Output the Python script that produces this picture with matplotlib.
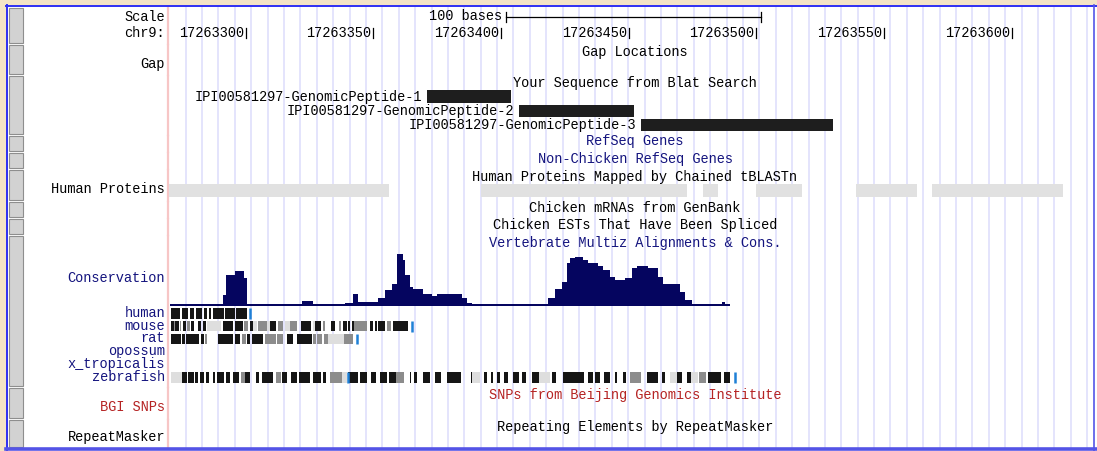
import matplotlib
matplotlib.use("Agg")
import matplotlib.pyplot as plt
from matplotlib.patches import Rectangle
import numpy as np

# ---------------- data ----------------
VIEW_START = 17263270          # first base shown in the browser window
RULER_TICKS = [17263300, 17263350, 17263400, 17263450, 17263500, 17263550, 17263600]
SCALE_BAR = [17263402, 17263502]   # 100 bases

PEPTIDE_NAMES = ["IPI00581297-GenomicPeptide-1",
                 "IPI00581297-GenomicPeptide-2",
                 "IPI00581297-GenomicPeptide-3"]
PEPTIDE_STARTS = [17263371, 17263407, 17263455]
PEPTIDE_ENDS = [17263404, 17263452, 17263530]

HUMAN_PROT_STARTS = [17263270, 17263392, 17263479, 17263500, 17263539, 17263569]
HUMAN_PROT_ENDS = [17263356, 17263473, 17263485, 17263518, 17263563, 17263620]

# conservation score, step profile (offsets in bases from 17263300)
CONS_ORIGIN = 17263300
CONS_EDGES = [-29.7, -8.9, -7.7, -4.2, -0.7, 0.5, 22.1, 26.4, 38.9, 42.0, 44.0,
              46.7, 51.8, 54.6, 57.3, 59.3, 61.6, 62.4, 64.4, 65.5, 69.4, 73.0,
              74.9, 84.7, 86.7, 88.6, 105.5, 110.2, 112.1, 118.4, 121.1, 123.9,
              125.8, 127.0, 129.0, 132.1, 134.1, 138.0, 140.0, 142.7, 144.7,
              148.6, 151.4, 153.3, 157.6, 161.5, 163.5, 170.2, 172.1, 174.9,
              180.0, 186.6, 187.8, 189.7]
CONS_VALUES = [0.03, 0.21, 0.58, 0.66, 0.53, 0.03, 0.09, 0.03, 0.05, 0.23, 0.08,
               0.07, 0.15, 0.30, 0.41, 0.98, 0.87, 0.58, 0.36, 0.32, 0.22, 0.18,
               0.22, 0.15, 0.05, 0.03, 0.04, 0.03, 0.04, 0.15, 0.33, 0.46, 0.81,
               0.90, 0.93, 0.87, 0.82, 0.76, 0.68, 0.55, 0.49, 0.52, 0.71, 0.76,
               0.71, 0.55, 0.41, 0.27, 0.11, 0.03, 0.04, 0.07, 0.04]

# pairwise alignment blocks: (start, end, identity level), bases from VIEW_START
# K = high identity, G = medium, L = low
SPECIES = ["human", "mouse", "rat", "opossum", "x_tropicalis", "zebrafish"]
BLOCKS_HUMAN = [(0.6, 4.4, "K"), (5.0, 7.3, "K"), (8.3, 9.7, "K"), (10.5, 12.9, "K"),
                (13.7, 14.9, "K"), (15.7, 16.4, "K"), (17.1, 21.5, "K"),
                (22.0, 25.8, "K"), (26.2, 30.4, "K")]
BLOCKS_MOUSE = [(0.6, 1.8, "K"), (1.8, 2.3, "G"), (2.4, 3.9, "K"), (4.2, 4.8, "G"),
                (5.6, 6.6, "K"), (7.2, 8.0, "G"), (8.6, 9.8, "K"), (11.4, 12.3, "K"),
                (13.4, 14.3, "K"), (15.0, 20.2, "L"), (21.2, 25.2, "K"),
                (25.8, 29.0, "K"), (29.4, 31.0, "G"), (31.8, 32.9, "K"),
                (33.0, 34.6, "L"), (34.7, 38.3, "G"), (38.3, 39.5, "L"),
                (39.7, 41.9, "K"), (42.5, 44.8, "G"), (45.2, 47.3, "L"),
                (47.5, 49.9, "G"), (51.7, 55.4, "K"), (56.2, 57.0, "L"),
                (57.2, 59.3, "K"), (60.1, 61.0, "G"), (63.4, 65.1, "K"),
                (66.5, 67.5, "G"), (68.0, 69.5, "K"), (70.2, 70.9, "K"),
                (71.5, 72.4, "K"), (72.4, 77.5, "G"), (78.6, 80.0, "K"),
                (80.6, 81.4, "K"), (82.0, 84.7, "K"), (85.2, 87.0, "G"),
                (87.6, 93.4, "K")]
BLOCKS_RAT = [(0.6, 4.8, "K"), (5.2, 6.3, "K"), (6.8, 11.8, "K"), (12.6, 13.5, "K"),
              (14.0, 14.8, "G"), (19.3, 25.1, "K"), (25.7, 27.8, "K"),
              (28.5, 30.0, "G"), (30.4, 31.7, "K"), (32.6, 36.9, "K"),
              (37.5, 41.9, "G"), (42.3, 44.7, "G"), (46.2, 48.6, "K"),
              (50.0, 55.9, "K"), (56.2, 57.6, "G"), (57.8, 59.8, "G"),
              (60.8, 62.2, "G"), (62.3, 68.4, "L"), (68.6, 72.2, "G")]
BLOCKS_OPOSSUM = []
BLOCKS_XTROP = []
BLOCKS_ZEBRAFISH = [(0.6, 4.9, "L"), (4.9, 7.1, "K"), (7.4, 9.7, "K"), (10.0, 11.5, "K"),
                    (12.2, 13.6, "K"), (14.6, 15.8, "K"), (17.3, 18.0, "K"),
                    (18.7, 21.6, "K"), (22.3, 23.8, "K"), (25.2, 27.4, "K"),
                    (28.1, 29.6, "G"), (29.6, 31.8, "K"), (34.0, 35.4, "K"),
                    (36.4, 40.5, "K"), (41.9, 43.7, "G"), (44.1, 46.3, "K"),
                    (47.7, 49.9, "K"), (50.9, 55.0, "K"), (56.4, 59.3, "K"),
                    (60.1, 61.5, "K"), (63.0, 67.9, "G"), (67.9, 69.5, "L"),
                    (70.2, 73.9, "K"), (74.6, 77.5, "K"), (78.9, 81.1, "K"),
                    (82.6, 85.5, "K"), (86.2, 89.0, "K"), (89.0, 92.0, "G"),
                    (94.2, 94.9, "K"), (95.9, 97.1, "K"), (99.3, 102.2, "K"),
                    (104.3, 106.5, "K"), (108.7, 114.5, "K"), (118.1, 118.8, "K"),
                    (118.8, 121.8, "L"), (123.2, 124.6, "K"), (126.1, 126.8, "K"),
                    (128.3, 129.7, "K"), (131.2, 132.6, "K"), (134.8, 137.0, "K"),
                    (138.4, 139.9, "K"), (142.1, 145.0, "K"), (145.0, 149.2, "L"),
                    (150.1, 151.5, "K"), (154.4, 162.4, "K"), (163.9, 166.0, "K"),
                    (166.8, 168.9, "K"), (170.4, 172.6, "K"), (174.7, 175.5, "K"),
                    (177.6, 179.1, "K"), (180.5, 184.9, "G"), (187.1, 191.4, "K"),
                    (192.9, 194.3, "K"), (196.2, 199.0, "L"), (199.0, 200.8, "K"),
                    (203.0, 204.5, "K"), (204.5, 207.1, "L"), (207.4, 210.3, "G"),
                    (211.0, 216.1, "K"), (217.5, 219.7, "K")]
INSERT_MARKS = {"human": [31.7], "mouse": [95.0], "rat": [73.6],
                "zebrafish": [69.9, 221.5]}

# ---------------- layout helpers ----------------
W, H = 1097, 451
PX0, PX_PER_BASE = 245.7, 2.553      # pixel of 17263300, pixels per base
X0 = 17263300 - PX0 / PX_PER_BASE
X1 = 17263300 + (W - PX0) / PX_PER_BASE

FONT = dict(family="Liberation Mono", fontsize=9.8)
NAVY = "#14147e"
DARKRED = "#b52323"

fig = plt.figure(figsize=(W / 100, H / 100), dpi=100)
fig.patch.set_facecolor("white")

frame = fig.add_axes([0, 0, 1, 1])
frame.set_xlim(0, W)
frame.set_ylim(H, 0)
frame.axis("off")

# page margin and border
frame.add_patch(Rectangle((0, 0), W, 5, color="#f4e4c6", lw=0, zorder=0))
frame.add_patch(Rectangle((0, 0), 6, H, color="#f4e4c6", lw=0, zorder=0))
frame.plot([6, W], [5.5, 5.5], color="#2f2ff2", lw=1.4, zorder=5)
frame.plot([6.6, 6.6], [5, H], color="#2f2ff2", lw=1.4, zorder=5)
frame.plot([6, W], [449.3, 449.3], color="#5454e6", lw=2.6, zorder=5)
frame.plot([1093.5, 1093.5], [5, H], color="#5454e6", lw=1.2, zorder=5)

# guide lines across the track area
for gx in np.arange(185.7, 1090, 16.39):
    frame.plot([gx, gx], [7, 448], color="#dcdcfc", lw=1.1, zorder=1)

# track sections: side buttons and the separator
sections = [(8, 43), (45, 74), (76, 134), (136, 151), (153, 168), (170, 200),
            (202, 217), (219, 234), (236, 386), (388, 418), (420, 447)]
for y0, y1 in sections:
    frame.add_patch(Rectangle((9, y0), 14, y1 - y0, fc="#d2d2d2", ec="#8e8e8e",
                              lw=0.8, zorder=2))
    frame.plot([167.6, 167.6], [y0 - 0.5, y1 + 0.5], color="#f7c6c6", lw=1.6,
               zorder=2)

# left-hand labels
left_labels = [("Scale", 21, "black"), ("chr9:", 37, "black"), ("Gap", 68, "black"),
               ("Human Proteins", 193, "black"), ("Conservation", 281.5, NAVY),
               ("BGI SNPs", 411, DARKRED), ("RepeatMasker", 441.5, "black")]
for txt, yb, col in left_labels:
    frame.text(165, yb, txt, ha="right", va="baseline", color=col, **FONT)
species_base = [317.3, 330, 342.5, 355.3, 368, 381]
for sp, yb in zip(SPECIES, species_base):
    frame.text(165, yb, sp, ha="right", va="baseline", color=NAVY, **FONT)

# centred track titles
titles = [("Gap Locations", 56, "black"),
          ("Your Sequence from Blat Search", 87, "black"),
          ("RefSeq Genes", 145.5, NAVY),
          ("Non-Chicken RefSeq Genes", 163, NAVY),
          ("Human Proteins Mapped by Chained tBLASTn", 180.5, "black"),
          ("Chicken mRNAs from GenBank", 211.5, "black"),
          ("Chicken ESTs That Have Been Spliced", 228.5, "black"),
          ("Vertebrate Multiz Alignments & Cons.", 246.5, NAVY),
          ("SNPs from Beijing Genomics Institute", 399.5, DARKRED),
          ("Repeating Elements by RepeatMasker", 431, "black")]
for txt, yb, col in titles:
    frame.text(635, yb, txt, ha="center", va="baseline", color=col, zorder=6, **FONT)

# ---------------- genome-coordinate tracks ----------------
ax = fig.add_axes([0, 0, 1, 1])
ax.set_xlim(X0, X1)
ax.set_ylim(H, 0)
ax.axis("off")
ax.patch.set_alpha(0)

# base position ruler
for t in RULER_TICKS:
    ax.plot([t, t], [27.5, 38], color="black", lw=0.9)
    ax.annotate(str(t), (t, 37), xytext=(-2, 0), textcoords="offset pixels",
                ha="right", va="baseline", **FONT)
ax.plot(SCALE_BAR, [16.6, 16.6], color="black", lw=0.9)
for t in SCALE_BAR:
    ax.plot([t, t], [11.5, 22], color="black", lw=0.9)
ax.annotate(f"{SCALE_BAR[1] - SCALE_BAR[0]} bases", (SCALE_BAR[0], 20.5),
            xytext=(-4, 0), textcoords="offset pixels", ha="right",
            va="baseline", **FONT)

# Blat hits
pep_rows = [96.5, 111, 125]
for name, s, e, yc in zip(PEPTIDE_NAMES, PEPTIDE_STARTS, PEPTIDE_ENDS, pep_rows):
    ax.barh(yc, e - s, left=s, height=12.5, color="#1e1e1e", lw=0)
    ax.annotate(name, (s, yc + 4), xytext=(-5, 0), textcoords="offset pixels",
                ha="right", va="baseline", **FONT)

# human protein alignments
for s, e in zip(HUMAN_PROT_STARTS, HUMAN_PROT_ENDS):
    ax.barh(190, e - s, left=s, height=13, color="#e1e1e1", lw=0)

# species alignment rows
shade = {"K": "#151515", "G": "#8c8c8c", "L": "#dedede"}
rows = {"human": (BLOCKS_HUMAN, 313.4), "mouse": (BLOCKS_MOUSE, 326.2),
        "rat": (BLOCKS_RAT, 339.0), "opossum": (BLOCKS_OPOSSUM, 351.8),
        "x_tropicalis": (BLOCKS_XTROP, 364.6), "zebrafish": (BLOCKS_ZEBRAFISH, 377.5)}
for sp in SPECIES:
    blocks, yc = rows[sp]
    for s, e, lvl in blocks:
        ax.barh(yc, e - s, left=VIEW_START + s, height=10.5, color=shade[lvl], lw=0)
    for m in INSERT_MARKS.get(sp, []):
        ax.plot([VIEW_START + m] * 2, [yc - 5.3, yc + 5.3], color="#1f80d6",
                lw=1.8, solid_capstyle="butt")

# conservation profile
cax = fig.add_axes([0, (H - 306) / H, 1, 53 / H])
cax.set_xlim(X0, X1)
cax.set_ylim(0, 1)
cax.axis("off")
cax.patch.set_alpha(0)
cax.stairs(CONS_VALUES, [CONS_ORIGIN + e for e in CONS_EDGES], fill=True,
           color="#05055f", baseline=0)

fig.savefig("out.png", dpi=100)
